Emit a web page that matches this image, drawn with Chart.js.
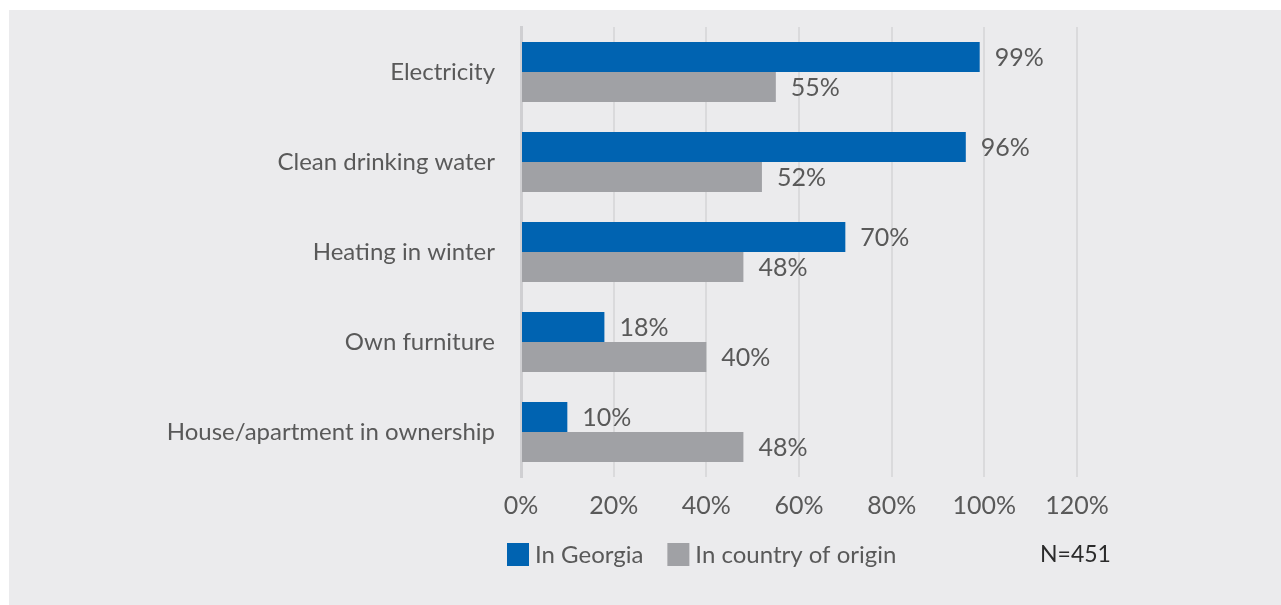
<!DOCTYPE html>
<html>
<head>
<meta charset="utf-8">
<script src="https://cdn.jsdelivr.net/npm/chart.js@4/dist/chart.umd.min.js"></script>
<style>
  html, body { margin: 0; padding: 0; background: #ffffff; }
  #wrap { position: absolute; left: 9px; top: 10px; width: 1272px; height: 595px; background: #EBEBED; }
  canvas { display: block; }
</style>
</head>
<body>
<div id="wrap"><canvas id="chart" width="1272" height="595"></canvas></div>
<script>
// Access to basic amenities, share of respondents (%)
const categories = [
  'Electricity',
  'Clean drinking water',
  'Heating in winter',
  'Own furniture',
  'House/apartment in ownership'
];
const inGeorgia = [99, 96, 70, 18, 10];
const inCountryOfOrigin = [55, 52, 48, 40, 48];
const seriesNames = ['In Georgia', 'In country of origin'];
const sampleNote = 'N=451';

const FONT = 'Lato, "Open Sans", "DejaVu Sans", sans-serif';
const TEXT = '#595959';

// Percentage labels just past the end of each bar
const valueLabels = {
  id: 'valueLabels',
  afterDatasetsDraw(chart) {
    const ctx = chart.ctx;
    ctx.save();
    ctx.font = '25px ' + FONT;
    ctx.fillStyle = TEXT;
    ctx.textAlign = 'left';
    ctx.textBaseline = 'middle';
    chart.data.datasets.forEach((ds, i) => {
      chart.getDatasetMeta(i).data.forEach((bar, j) => {
        ctx.fillText(ds.data[j] + '%', bar.x + 15, bar.y + 1);
      });
    });
    ctx.restore();
  }
};

// Legend row under the axis, plus the sample size note
const legendRow = {
  id: 'legendRow',
  afterDraw(chart) {
    const ctx = chart.ctx;
    ctx.save();
    ctx.font = '24px ' + FONT;
    ctx.textBaseline = 'middle';
    ctx.textAlign = 'left';
    const y = 545;
    let x = 498;
    chart.data.datasets.forEach(ds => {
      ctx.fillStyle = ds.backgroundColor;
      ctx.fillRect(x, y - 12, 22, 23);
      ctx.fillStyle = TEXT;
      ctx.fillText(ds.label, x + 28, y);
      x += 28 + ctx.measureText(ds.label).width + 24;
    });
    ctx.fillStyle = '#2b2b2b';
    ctx.font = '23px ' + FONT;
    ctx.fillText(sampleNote, 1031, y);
    ctx.restore();
  }
};

new Chart(document.getElementById('chart'), {
  type: 'bar',
  data: {
    labels: categories,
    datasets: [
      { label: seriesNames[0], data: inGeorgia, backgroundColor: '#0063B1' },
      { label: seriesNames[1], data: inCountryOfOrigin, backgroundColor: '#A0A1A5' }
    ]
  },
  options: {
    indexAxis: 'y',
    responsive: false,
    animation: false,
    layout: { padding: { top: 17, right: 204, left: 0, bottom: 0 } },
    datasets: { bar: { categoryPercentage: 0.667, barPercentage: 1.0 } },
    plugins: { legend: { display: false }, tooltip: { enabled: false } },
    scales: {
      x: {
        min: 0, max: 120,
        ticks: {
          stepSize: 20,
          padding: 14,
          color: TEXT,
          font: { family: FONT, size: 25 },
          callback: v => v + '%'
        },
        grid: { color: '#DADADC', lineWidth: 2, drawTicks: false },
        border: { display: false },
        afterFit(scale) {
          scale.height = 128;
          scale.paddingLeft = 0;
          scale.paddingRight = 0;
        }
      },
      y: {
        ticks: {
          padding: 26,
          color: TEXT,
          font: { family: FONT, size: 24 }
        },
        grid: { display: false, drawTicks: false },
        border: { display: true, color: '#CFCFD2', width: 3 },
        afterFit(scale) {
          scale.width = 512;
          scale.paddingTop = 0;
          scale.paddingBottom = 0;
        }
      }
    }
  },
  plugins: [valueLabels, legendRow]
});
</script>
</body>
</html>
